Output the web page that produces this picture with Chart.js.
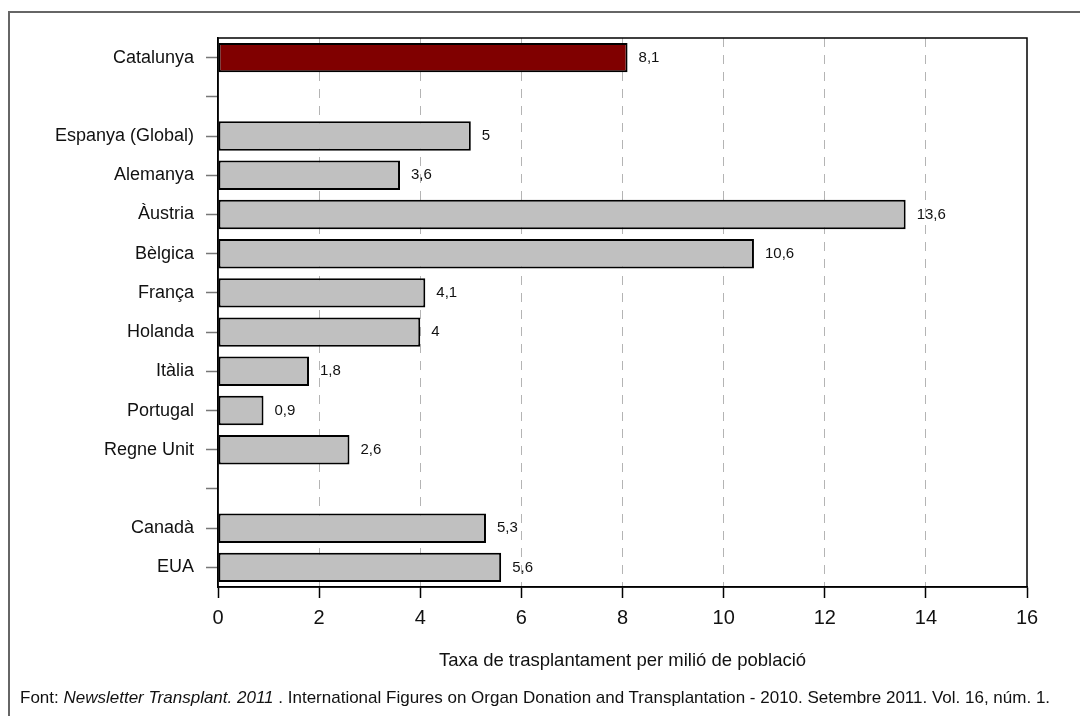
<!DOCTYPE html>
<html lang="ca">
<head>
  <meta charset="UTF-8" />
  <title>Taxa de trasplantament per milió de població</title>
  <style>
    html, body { margin: 0; padding: 0; background: #fff; }
    .wrap { position: relative; width: 1080px; height: 716px; overflow: hidden; }
    .frame {
      position: absolute; left: 8px; top: 11px; width: 1200px; height: 800px;
      border-left: 2px solid #666; border-top: 2px solid #666;
    }
    canvas { position: absolute; left: 0; top: 0; }
    .source {
      position: absolute; left: 20px; top: 688px;
      font: 17px "Liberation Sans", Arial, sans-serif; color: #111; white-space: nowrap;
      line-height: 20px;
    }
  </style>
</head>
<body>
<div class="wrap">
  <div class="frame"></div>
  <canvas id="chart" width="1080" height="716"></canvas>
  <div class="source">Font: <i>Newsletter Transplant. 2011</i> . International Figures on Organ Donation and Transplantation - 2010. Setembre 2011. Vol. 16, núm. 1.</div>
</div>

<script src="https://cdn.jsdelivr.net/npm/chart.js"></script>
<script>
  // rows of the chart, top to bottom (empty strings are spacer rows)
  const countries = ['Catalunya', '', 'Espanya (Global)', 'Alemanya', 'Àustria', 'Bèlgica',
    'França', 'Holanda', 'Itàlia', 'Portugal', 'Regne Unit', '', 'Canadà', 'EUA'];
  const rates = [8.1, null, 5, 3.6, 13.6, 10.6, 4.1, 4, 1.8, 0.9, 2.6, null, 5.3, 5.6];
  const xMin = 0, xMax = 16, xStep = 2;

  const FONT = '"Liberation Sans", Arial, sans-serif';

  // frame around the plotting area + value labels next to each bar
  const plotFrame = {
    id: 'plotFrame',
    afterDatasetsDraw(chart) {
      const { ctx, chartArea: a } = chart;
      const meta = chart.getDatasetMeta(0);
      ctx.save();
      ctx.font = '15px ' + FONT;
      ctx.fillStyle = '#111';
      ctx.textAlign = 'left';
      ctx.textBaseline = 'middle';
      meta.data.forEach((bar, i) => {
        const v = rates[i];
        if (v == null) return;
        ctx.fillText(String(v).replace('.', ','), bar.x + 11, bar.y);
      });
      ctx.strokeStyle = '#000';
      ctx.lineWidth = 1.5;
      ctx.strokeRect(a.left, a.top, a.right - a.left, a.bottom - a.top);
      ctx.restore();
    }
  };

  new Chart(document.getElementById('chart'), {
    type: 'bar',
    data: {
      labels: countries,
      datasets: [{
        data: rates,
        backgroundColor: countries.map((c, i) => i === 0 ? '#800000' : '#c0c0c0'),
        borderColor: '#000',
        borderWidth: 2,
        borderSkipped: false,
        barPercentage: 0.75,
        categoryPercentage: 1
      }]
    },
    options: {
      indexAxis: 'y',
      responsive: false,
      animation: false,
      layout: { padding: { top: 38, right: 53, left: 0, bottom: 0 } },
      plugins: { legend: { display: false }, tooltip: { enabled: false } },
      scales: {
        x: {
          type: 'linear',
          min: xMin,
          max: xMax,
          afterFit: s => { s.height = 129; },
          ticks: { stepSize: xStep, color: '#111', padding: 8, font: { family: FONT, size: 20 } },
          grid: {
            color: c => (c.tick && (c.tick.value === xMin || c.tick.value === xMax)) ? 'rgba(0,0,0,0)' : '#b4b4b4',
            lineWidth: 1,
            tickLength: 11,
            tickColor: '#000',
            tickWidth: 1.5
          },
          border: { display: true, color: '#000', width: 1.5, dash: [9, 8] },
          title: {
            display: true,
            text: 'Taxa de trasplantament per milió de població',
            color: '#111',
            font: { family: FONT, size: 18.5 },
            padding: { top: 0, bottom: 44 }
          }
        },
        y: {
          type: 'category',
          afterFit: s => { s.width = 218; },
          ticks: { color: '#111', padding: 12, autoSkip: false, font: { family: FONT, size: 18 } },
          grid: {
            offset: false,
            drawOnChartArea: false,
            tickLength: 12,
            tickColor: '#777',
            tickWidth: 1.5
          },
          border: { display: true, color: '#000', width: 1.5 }
        }
      }
    },
    plugins: [plotFrame]
  });
</script>
</body>
</html>
